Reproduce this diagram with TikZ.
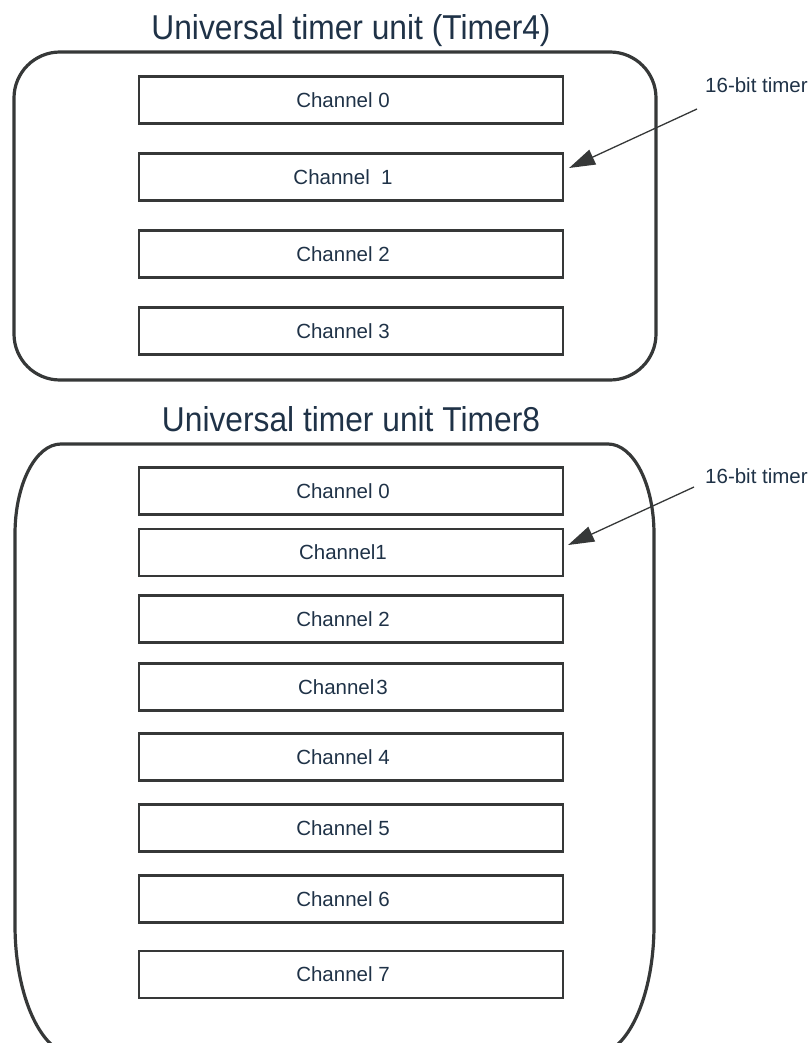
\documentclass[tikz,border=0pt]{standalone}
\usepackage{fontspec}
\setmainfont{Liberation Sans}
\newfontfamily\headingfont[FakeStretch=0.92]{Liberation Sans}
\usetikzlibrary{arrows.meta}
\definecolor{ink}{HTML}{1F3247}
\definecolor{edge}{HTML}{363838}
\begin{document}
\begin{tikzpicture}[x=1pt,y=1pt,
  unitbox/.style={draw=edge, line width=3.2pt},
  chan/.style={draw=edge, line width=2.2pt, minimum width=424pt, minimum height=47pt, inner sep=0pt},
  chantext/.style={text=ink, font=\fontsize{20.5}{24}\selectfont, xshift=-8pt},
  heading/.style={text=ink, font=\headingfont\fontsize{34.5}{40}\selectfont, anchor=base, inner sep=0pt},
  note/.style={text=ink, font=\fontsize{20.5}{24}\selectfont, anchor=base west, inner sep=0pt},
  pointer/.style={draw=edge, line width=1.3pt, -{Triangle[length=26pt,width=16pt]}}
]
\useasboundingbox (0,0) rectangle (811,-1043);
\clip (0,0) rectangle (811,-1043);

% ---- Timer4 unit ----
\node[heading] (t4title) at (351,-40) {Universal timer unit (Timer4)};
\draw[unitbox, rounded corners=46pt] (14,-52) rectangle (656,-380);

\node[chan, label={[chantext]center:Channel 0}] (a0) at (351,-100) {};
\node[chan, label={[chantext]center:Channel\hspace{0.55em}1}] (a1) at (351,-177) {};
\node[chan, label={[chantext]center:Channel 2}] (a2) at (351,-254) {};
\node[chan, label={[chantext]center:Channel 3}] (a3) at (351,-331) {};

\node[note] (n4) at (705,-93) {16-bit timer};
\coordinate (p4) at (697,-109);
\coordinate (q4) at ([xshift=5pt,yshift=9pt]a1.east);
\draw[pointer] (p4) -- (q4);

% ---- Timer8 unit ----
\node[heading] (t8title) at (351,-431) {Universal timer unit Timer8};
\draw[unitbox] (61,-444) -- (608,-444)
  arc[start angle=90, end angle=0, x radius=46, y radius=90]
  -- (654,-925)
  arc[start angle=0, end angle=-90, x radius=60, y radius=130]
  -- (75,-1055)
  arc[start angle=270, end angle=180, x radius=60, y radius=130]
  -- (15,-534)
  arc[start angle=180, end angle=90, x radius=46, y radius=90]
  -- cycle;

\node[chan, label={[chantext]center:Channel 0}] (b0) at (351,-491) {};
\node[chan, label={[chantext]center:Channel1}] (b1) at (351,-552.5) {};
\node[chan, label={[chantext]center:Channel 2}] (b2) at (351,-619) {};
\node[chan, label={[chantext]center:Channel\hspace{0.1em}3}] (b3) at (351,-687) {};
\node[chan, label={[chantext]center:Channel 4}] (b4) at (351,-757) {};
\node[chan, label={[chantext]center:Channel 5}] (b5) at (351,-828) {};
\node[chan, label={[chantext]center:Channel 6}] (b6) at (351,-899) {};
\node[chan, label={[chantext]center:Channel 7}] (b7) at (351,-974.5) {};

\node[note] (n8) at (705,-483) {16-bit timer};
\coordinate (p8) at (694,-487);
\coordinate (q8) at ([xshift=4pt,yshift=7.5pt]b1.east);
\draw[pointer] (p8) -- (q8);
\end{tikzpicture}
\end{document}
